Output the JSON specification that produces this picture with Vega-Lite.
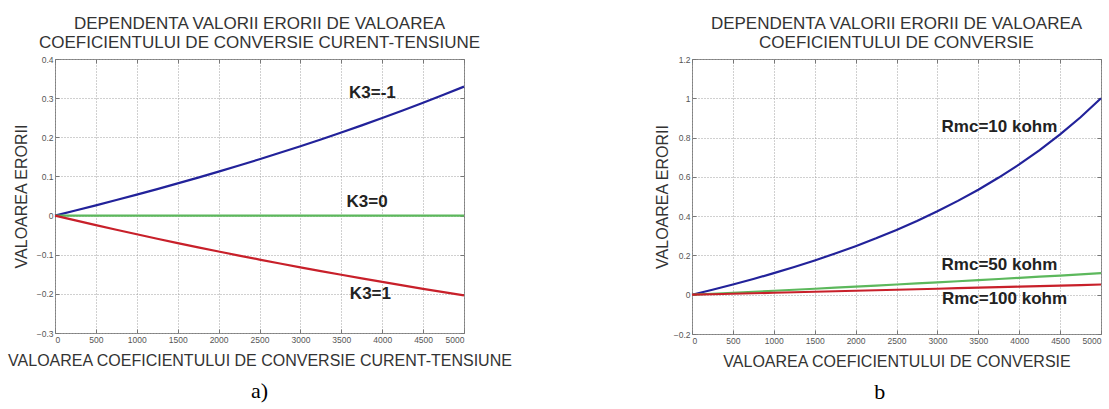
{
"$schema": "https://vega.github.io/schema/vega-lite/v6.json",
"background": "white",
"padding": {"left": 6, "top": 14, "right": 2, "bottom": 0},
"spacing": 140,
"config": {
  "view": {"stroke": "#808080", "strokeWidth": 1},
  "font": "Liberation Sans",
  "axis": {"labelFont": "Liberation Sans", "labelFontSize": 8.5, "labelColor": "#555555", "titleFont": "Liberation Sans", "titleFontSize": 16, "titleFontWeight": "normal", "titleColor": "#333333", "domain": false, "gridColor": "#a0a0a0", "gridDash": [1, 2], "gridOpacity": 1, "gridWidth": 1, "tickColor": "#777777", "tickSize": -4, "labelPadding": 6},
  "title": {"font": "Liberation Sans", "fontSize": 17, "fontWeight": "normal", "color": "#333333", "lineHeight": 19, "offset": 3}
},
"datasets": {
  "left": [
    {"x":0,"y":0,"s":"K3=-1"},{"x":250,"y":0.01292,"s":"K3=-1"},{"x":500,"y":0.02614,"s":"K3=-1"},{"x":750,"y":0.03966,"s":"K3=-1"},{"x":1000,"y":0.0535,"s":"K3=-1"},{"x":1250,"y":0.06767,"s":"K3=-1"},{"x":1500,"y":0.08219,"s":"K3=-1"},{"x":1750,"y":0.09705,"s":"K3=-1"},{"x":2000,"y":0.11228,"s":"K3=-1"},{"x":2250,"y":0.1279,"s":"K3=-1"},{"x":2500,"y":0.1439,"s":"K3=-1"},{"x":2750,"y":0.16032,"s":"K3=-1"},{"x":3000,"y":0.17716,"s":"K3=-1"},{"x":3250,"y":0.19445,"s":"K3=-1"},{"x":3500,"y":0.2122,"s":"K3=-1"},{"x":3750,"y":0.23042,"s":"K3=-1"},{"x":4000,"y":0.24915,"s":"K3=-1"},{"x":4250,"y":0.26839,"s":"K3=-1"},{"x":4500,"y":0.28817,"s":"K3=-1"},{"x":4750,"y":0.30853,"s":"K3=-1"},{"x":5000,"y":0.32947,"s":"K3=-1"},
    {"x":0,"y":0,"s":"K3=0"},{"x":5000,"y":0,"s":"K3=0"},
    {"x":0,"y":0,"s":"K3=1"},{"x":250,"y":-0.01236,"s":"K3=1"},{"x":500,"y":-0.02445,"s":"K3=1"},{"x":750,"y":-0.03628,"s":"K3=1"},{"x":1000,"y":-0.04785,"s":"K3=1"},{"x":1250,"y":-0.05917,"s":"K3=1"},{"x":1500,"y":-0.07026,"s":"K3=1"},{"x":1750,"y":-0.08111,"s":"K3=1"},{"x":2000,"y":-0.09174,"s":"K3=1"},{"x":2250,"y":-0.10216,"s":"K3=1"},{"x":2500,"y":-0.11236,"s":"K3=1"},{"x":2750,"y":-0.12236,"s":"K3=1"},{"x":3000,"y":-0.13216,"s":"K3=1"},{"x":3250,"y":-0.14177,"s":"K3=1"},{"x":3500,"y":-0.15119,"s":"K3=1"},{"x":3750,"y":-0.16043,"s":"K3=1"},{"x":4000,"y":-0.16949,"s":"K3=1"},{"x":4250,"y":-0.17838,"s":"K3=1"},{"x":4500,"y":-0.18711,"s":"K3=1"},{"x":4750,"y":-0.19567,"s":"K3=1"},{"x":5000,"y":-0.20408,"s":"K3=1"}
  ],
  "leftLabels": [
    {"x":3880,"y":0.312,"t":"K3=-1"},
    {"x":3815,"y":0.034,"t":"K3=0"},
    {"x":3856,"y":-0.201,"t":"K3=1"}
  ],
  "right": [
    {"x":0,"y":0,"s":"Rmc=10 kohm"},{"x":250,"y":0.02527,"s":"Rmc=10 kohm"},{"x":500,"y":0.05188,"s":"Rmc=10 kohm"},{"x":750,"y":0.07996,"s":"Rmc=10 kohm"},{"x":1000,"y":0.10963,"s":"Rmc=10 kohm"},{"x":1250,"y":0.14102,"s":"Rmc=10 kohm"},{"x":1500,"y":0.17429,"s":"Rmc=10 kohm"},{"x":1750,"y":0.20961,"s":"Rmc=10 kohm"},{"x":2000,"y":0.24718,"s":"Rmc=10 kohm"},{"x":2250,"y":0.28722,"s":"Rmc=10 kohm"},{"x":2500,"y":0.32998,"s":"Rmc=10 kohm"},{"x":2750,"y":0.37576,"s":"Rmc=10 kohm"},{"x":3000,"y":0.42488,"s":"Rmc=10 kohm"},{"x":3250,"y":0.47771,"s":"Rmc=10 kohm"},{"x":3500,"y":0.5347,"s":"Rmc=10 kohm"},{"x":3750,"y":0.59637,"s":"Rmc=10 kohm"},{"x":4000,"y":0.6633,"s":"Rmc=10 kohm"},{"x":4250,"y":0.7362,"s":"Rmc=10 kohm"},{"x":4500,"y":0.81592,"s":"Rmc=10 kohm"},{"x":4750,"y":0.90345,"s":"Rmc=10 kohm"},{"x":5000,"y":1.0,"s":"Rmc=10 kohm"},
    {"x":0,"y":0,"s":"Rmc=50 kohm"},{"x":250,"y":0.00495,"s":"Rmc=50 kohm"},{"x":500,"y":0.00995,"s":"Rmc=50 kohm"},{"x":750,"y":0.015,"s":"Rmc=50 kohm"},{"x":1000,"y":0.02011,"s":"Rmc=50 kohm"},{"x":1250,"y":0.02527,"s":"Rmc=50 kohm"},{"x":1500,"y":0.03048,"s":"Rmc=50 kohm"},{"x":1750,"y":0.03574,"s":"Rmc=50 kohm"},{"x":2000,"y":0.04107,"s":"Rmc=50 kohm"},{"x":2250,"y":0.04645,"s":"Rmc=50 kohm"},{"x":2500,"y":0.05188,"s":"Rmc=50 kohm"},{"x":2750,"y":0.05738,"s":"Rmc=50 kohm"},{"x":3000,"y":0.06293,"s":"Rmc=50 kohm"},{"x":3250,"y":0.06855,"s":"Rmc=50 kohm"},{"x":3500,"y":0.07422,"s":"Rmc=50 kohm"},{"x":3750,"y":0.07996,"s":"Rmc=50 kohm"},{"x":4000,"y":0.08576,"s":"Rmc=50 kohm"},{"x":4250,"y":0.09163,"s":"Rmc=50 kohm"},{"x":4500,"y":0.09756,"s":"Rmc=50 kohm"},{"x":4750,"y":0.10356,"s":"Rmc=50 kohm"},{"x":5000,"y":0.10963,"s":"Rmc=50 kohm"},
    {"x":0,"y":0,"s":"Rmc=100 kohm"},{"x":250,"y":0.00247,"s":"Rmc=100 kohm"},{"x":500,"y":0.00495,"s":"Rmc=100 kohm"},{"x":750,"y":0.00744,"s":"Rmc=100 kohm"},{"x":1000,"y":0.00995,"s":"Rmc=100 kohm"},{"x":1250,"y":0.01247,"s":"Rmc=100 kohm"},{"x":1500,"y":0.015,"s":"Rmc=100 kohm"},{"x":1750,"y":0.01755,"s":"Rmc=100 kohm"},{"x":2000,"y":0.02011,"s":"Rmc=100 kohm"},{"x":2250,"y":0.02268,"s":"Rmc=100 kohm"},{"x":2500,"y":0.02527,"s":"Rmc=100 kohm"},{"x":2750,"y":0.02787,"s":"Rmc=100 kohm"},{"x":3000,"y":0.03048,"s":"Rmc=100 kohm"},{"x":3250,"y":0.0331,"s":"Rmc=100 kohm"},{"x":3500,"y":0.03574,"s":"Rmc=100 kohm"},{"x":3750,"y":0.0384,"s":"Rmc=100 kohm"},{"x":4000,"y":0.04107,"s":"Rmc=100 kohm"},{"x":4250,"y":0.04375,"s":"Rmc=100 kohm"},{"x":4500,"y":0.04645,"s":"Rmc=100 kohm"},{"x":4750,"y":0.04916,"s":"Rmc=100 kohm"},{"x":5000,"y":0.05188,"s":"Rmc=100 kohm"}
  ],
  "rightLabels": [
    {"x":3758,"y":0.854,"t":"Rmc=10 kohm"},
    {"x":3758,"y":0.153,"t":"Rmc=50 kohm"},
    {"x":3820,"y":-0.02,"t":"Rmc=100 kohm"}
  ]
},
"hconcat": [
  {
    "title": {"text": "a)", "orient": "bottom", "font": "Liberation Serif", "fontSize": 22, "fontWeight": "normal", "color": "#000000", "offset": 12, "anchor": "middle"},
    "vconcat": [
      {
        "title": {"text": ["DEPENDENTA VALORII ERORII DE VALOAREA", "COEFICIENTULUI DE CONVERSIE CURENT-TENSIUNE"], "anchor": "middle"},
        "width": 409,
        "height": 274,
        "resolve": {"axis": {"x": "independent", "y": "independent"}},
        "layer": [
          {
            "data": {"name": "left"},
            "mark": {"type": "line", "strokeWidth": 2.2},
            "encoding": {
              "x": {"field": "x", "type": "quantitative", "scale": {"domain": [0, 5000], "nice": false}, "axis": {"values": [0,500,1000,1500,2000,2500,3000,3500,4000,4500,5000], "title": "VALOAREA COEFICIENTULUI DE CONVERSIE CURENT-TENSIUNE", "format": "d", "titlePadding": 9}},
              "y": {"field": "y", "type": "quantitative", "scale": {"domain": [-0.3, 0.4], "nice": false, "zero": false}, "axis": {"values": [-0.3,-0.2,-0.1,0,0.1,0.2,0.3,0.4], "title": "VALOAREA ERORII", "format": "~g", "titlePadding": 7}},
              "color": {"field": "s", "type": "nominal", "scale": {"domain": ["K3=-1", "K3=0", "K3=1"], "range": ["#22229a", "#5cb85c", "#c8202a"]}, "legend": null}
            }
          },
          {
            "data": {"name": "leftLabels"},
            "mark": {"type": "text", "fontSize": 17, "fontWeight": "bold", "color": "#222222", "align": "center", "baseline": "middle"},
            "encoding": {
              "x": {"field": "x", "type": "quantitative", "axis": {"orient": "top", "values": [0,500,1000,1500,2000,2500,3000,3500,4000,4500,5000], "labels": false, "grid": false, "title": null}},
              "y": {"field": "y", "type": "quantitative", "axis": {"orient": "right", "values": [-0.3,-0.2,-0.1,0,0.1,0.2,0.3,0.4], "labels": false, "grid": false, "title": null}},
              "text": {"field": "t"}
            }
          }
        ]
      }
    ]
  },
  {
    "title": {"text": "b", "orient": "bottom", "font": "Liberation Serif", "fontSize": 22, "fontWeight": "normal", "color": "#000000", "offset": 12, "anchor": "middle"},
    "vconcat": [
      {
        "title": {"text": ["DEPENDENTA VALORII ERORII DE VALOAREA", "COEFICIENTULUI DE CONVERSIE"], "anchor": "middle"},
        "width": 409,
        "height": 275,
        "resolve": {"axis": {"x": "independent", "y": "independent"}},
        "layer": [
          {
            "data": {"name": "right"},
            "mark": {"type": "line", "strokeWidth": 2.2},
            "encoding": {
              "x": {"field": "x", "type": "quantitative", "scale": {"domain": [0, 5000], "nice": false}, "axis": {"values": [0,500,1000,1500,2000,2500,3000,3500,4000,4500,5000], "title": "VALOAREA COEFICIENTULUI DE CONVERSIE", "format": "d", "titlePadding": 9}},
              "y": {"field": "y", "type": "quantitative", "scale": {"domain": [-0.2, 1.2], "nice": false, "zero": false}, "axis": {"values": [-0.2,0,0.2,0.4,0.6,0.8,1,1.2], "title": "VALOAREA ERORII", "format": "~g", "titlePadding": 3}},
              "color": {"field": "s", "type": "nominal", "scale": {"domain": ["Rmc=10 kohm", "Rmc=50 kohm", "Rmc=100 kohm"], "range": ["#22229a", "#2f8f2f", "#c8202a"]}, "legend": null}
            }
          },
          {
            "data": {"name": "rightLabels"},
            "mark": {"type": "text", "fontSize": 17, "fontWeight": "bold", "color": "#222222", "align": "center", "baseline": "middle"},
            "encoding": {
              "x": {"field": "x", "type": "quantitative", "axis": {"orient": "top", "values": [0,500,1000,1500,2000,2500,3000,3500,4000,4500,5000], "labels": false, "grid": false, "title": null}},
              "y": {"field": "y", "type": "quantitative", "axis": {"orient": "right", "values": [-0.2,0,0.2,0.4,0.6,0.8,1,1.2], "labels": false, "grid": false, "title": null}},
              "text": {"field": "t"}
            }
          }
        ]
      }
    ]
  }
]
}
